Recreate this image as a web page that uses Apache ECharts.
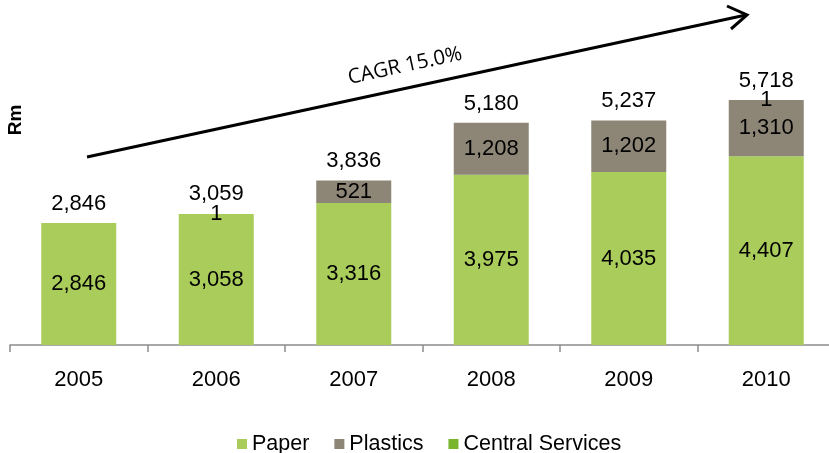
<!DOCTYPE html>
<html>
<head>
<meta charset="utf-8">
<script src="https://cdn.jsdelivr.net/npm/echarts@6/dist/echarts.min.js"></script>
<style>
  html, body { margin: 0; padding: 0; background: #fff; }
  #chart { width: 829px; height: 453px; }
</style>
</head>
<body>
<div id="chart"></div>
<script>
// Revenue by division, Rm
const years = ['2005', '2006', '2007', '2008', '2009', '2010'];
const paper = [2846, 3058, 3316, 3975, 4035, 4407];
const plastics = [0, 1, 521, 1208, 1202, 1310];
const centralServices = [0, 0, 0, 0, 0, 1];
const totals = [2846, 3059, 3836, 5180, 5237, 5718];
const cagrText = 'CAGR 15.0%';

const FONT = '"Liberation Sans", Arial, sans-serif';
const fmt = v => Number(v).toLocaleString('en-US');

const segLabel = {
  show: true,
  position: 'inside',
  color: '#000',
  fontFamily: FONT,
  fontSize: 22,
  formatter: p => (p.value ? fmt(p.value) : '')
};

function stackSeries(name, data, color) {
  return {
    name: name,
    type: 'bar',
    stack: 'total',
    barWidth: 75,
    data: data,
    itemStyle: { color: color },
    label: segLabel
  };
}

const chart = echarts.init(document.getElementById('chart'), null, { renderer: 'canvas' });

chart.setOption({
  animation: false,
  grid: { left: 10, width: 825, top: 45, bottom: 108, outerBoundsMode: 'none', containLabel: false },
  legend: {
    data: ['Paper', 'Plastics', 'Central Services'],
    left: 232,
    top: 428,
    itemWidth: 10,
    itemHeight: 10,
    itemGap: 25,
    icon: 'rect',
    textStyle: { fontFamily: FONT, fontSize: 21.5, color: '#000' }
  },
  xAxis: {
    type: 'category',
    data: years,
    axisLine: { lineStyle: { color: '#8c8c8c', width: 1.5 } },
    axisTick: { show: true, length: 7, lineStyle: { color: '#8c8c8c', width: 1.5 } },
    axisLabel: { fontFamily: FONT, fontSize: 22, color: '#000', margin: 24 }
  },
  yAxis: {
    type: 'value',
    min: 0,
    max: 7000,
    show: false,
    splitLine: { show: false }
  },
  series: [
    stackSeries('Paper', paper, '#a9cc5b'),
    stackSeries('Plastics', plastics, '#8d8676'),
    stackSeries('Central Services', centralServices, '#78b52c'),
    {
      name: 'Total',
      type: 'line',
      data: totals,
      symbol: 'circle',
      symbolSize: 1,
      itemStyle: { color: 'rgba(0,0,0,0)' },
      lineStyle: { width: 0, opacity: 0 },
      z: 5,
      label: {
        show: true,
        position: 'top',
        distance: 8,
        color: '#000',
        fontFamily: FONT,
        fontSize: 22,
        formatter: p => fmt(p.value)
      }
    }
  ],
  graphic: [
    {
      type: 'text',
      x: 16,
      y: 120,
      rotation: Math.PI / 2,
      style: {
        text: 'Rm',
        font: 'bold 19px ' + FONT,
        fill: '#000',
        align: 'center',
        verticalAlign: 'middle'
      }
    },
    {
      type: 'line',
      shape: { x1: 87, y1: 157, x2: 746, y2: 15 },
      style: { stroke: '#000', lineWidth: 3 }
    },
    {
      type: 'polyline',
      shape: { points: [[727, 6], [747, 15], [731, 29]] },
      style: { stroke: '#000', lineWidth: 3, fill: null, lineJoin: 'miter' }
    },
    {
      type: 'text',
      x: 405,
      y: 66,
      rotation: Math.atan2(142, 659),
      style: {
        text: cagrText,
        font: '20.5px "Open Sans", sans-serif',
        fill: '#000',
        align: 'center',
        verticalAlign: 'middle'
      }
    }
  ]
});
</script>
</body>
</html>
